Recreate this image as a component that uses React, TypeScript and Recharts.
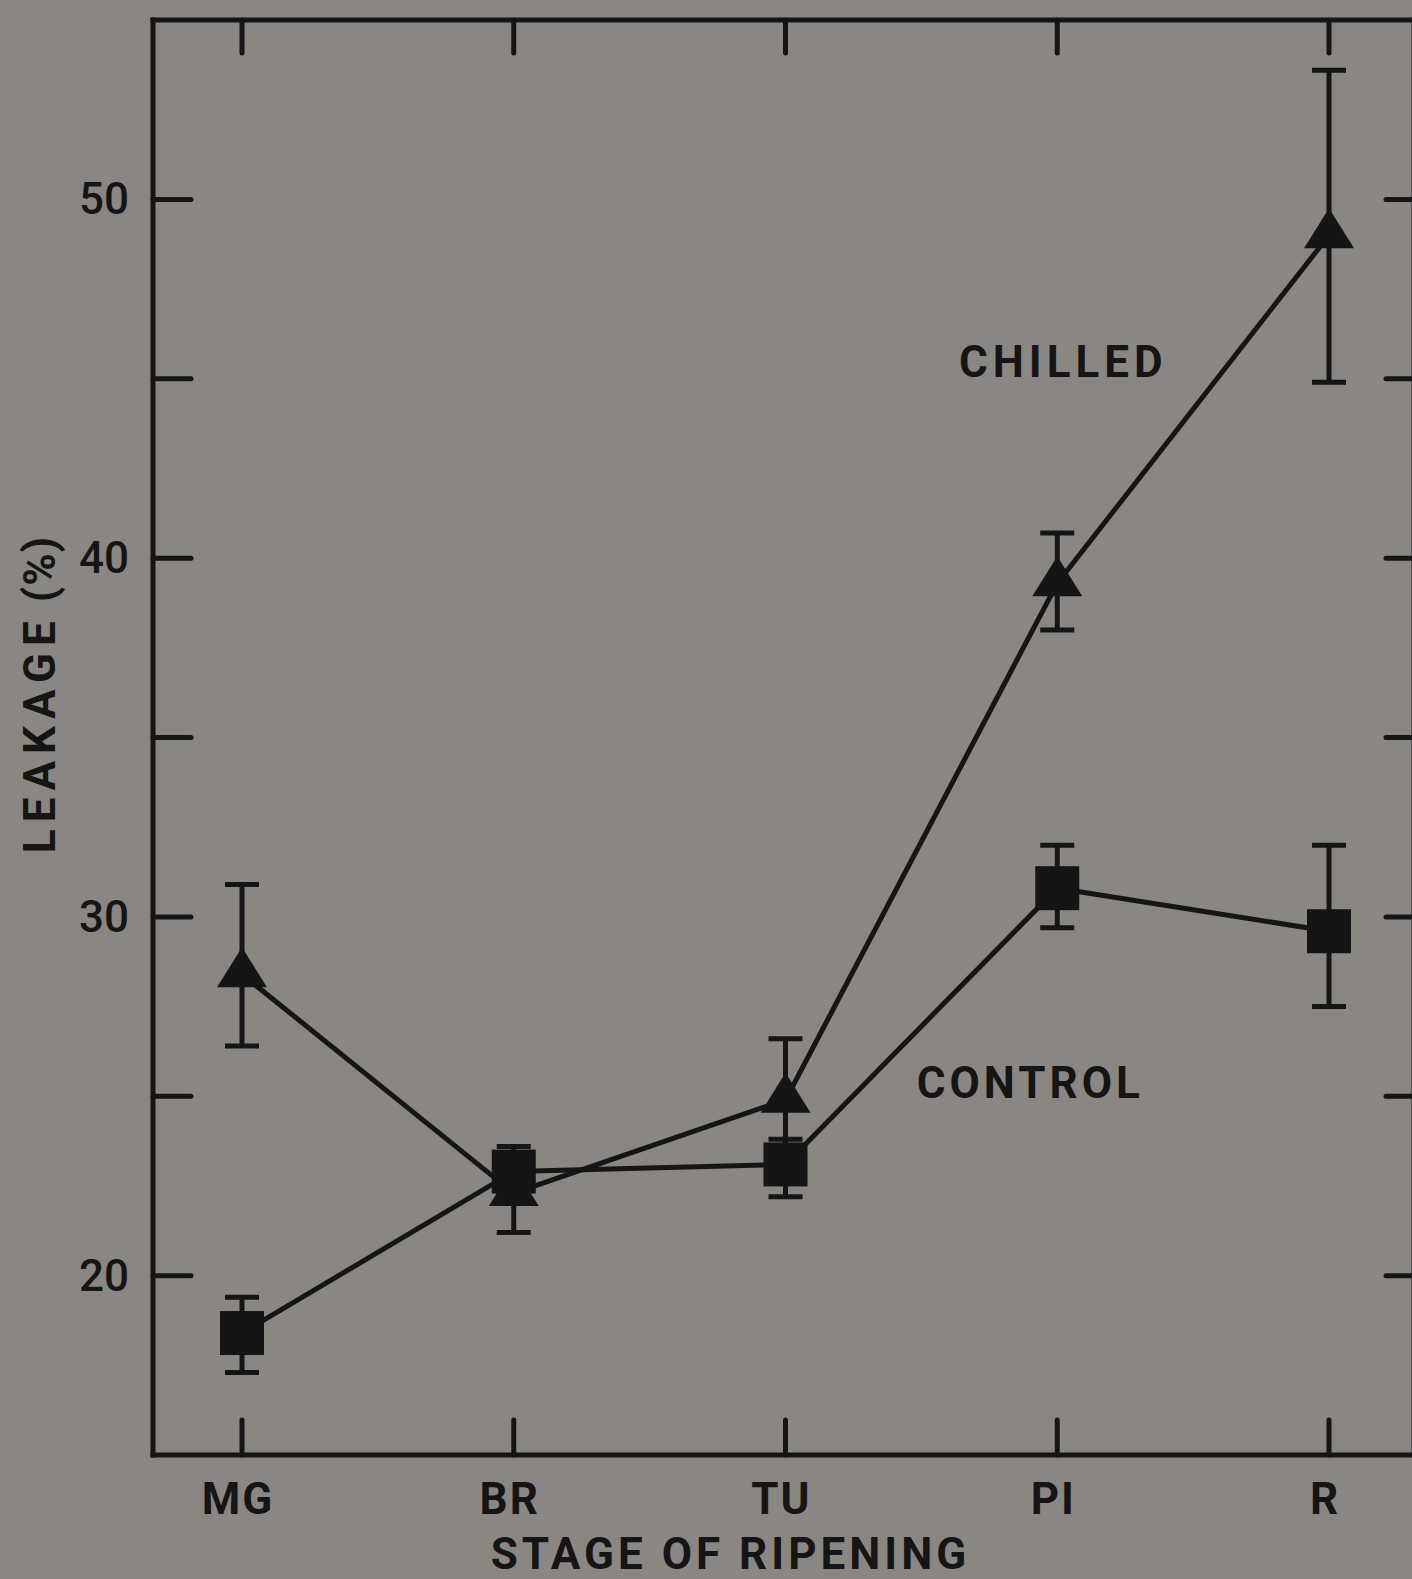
import { LineChart, Line, XAxis, YAxis, ErrorBar, Label, ReferenceDot } from 'recharts';

// stages of ripening on the x axis
const stages = ['MG', 'BR', 'TU', 'PI', 'R'];

// leakage (%), with the ends of the error bars
const chilledMean = [28.4, 22.3, 24.9, 39.3, 49.0];
const chilledHigh = [30.9, 23.4, 26.6, 40.7, 53.6];
const chilledLow = [26.4, 21.2, 23.6, 38.0, 44.9];

const controlMean = [18.4, 22.9, 23.1, 30.8, 29.6];
const controlHigh = [19.4, 23.6, 23.8, 32.0, 32.0];
const controlLow = [17.3, 22.2, 22.2, 29.7, 27.5];

const yTicks = [20, 25, 30, 35, 40, 45, 50];
const yLabelled = [20, 30, 40, 50];

// where the two curve names sit, in data units
const seriesNotes = [
  { text: 'CHILLED', stage: 'PI', value: 45.5, dx: 6, spacing: 5 },
  { text: 'CONTROL', stage: 'PI', value: 25.4, dx: -27, spacing: 4 },
];

const data = stages.map((stage, i) => ({
  stage,
  chilled: chilledMean[i],
  chilledErr: [chilledMean[i] - chilledLow[i], chilledHigh[i] - chilledMean[i]],
  control: controlMean[i],
  controlErr: [controlMean[i] - controlLow[i], controlHigh[i] - controlMean[i]],
}));

const INK = '#151515';
const BG = '#8a8782';
const FONT = 'Roboto, "DejaVu Sans", sans-serif';
const FS = 44;

const TriangleDot = (p: any) => {
  if (p.cx == null || p.cy == null) return <g key={`t-${p.index}`} />;
  const { cx, cy } = p;
  return (
    <polygon
      key={`t-${p.index}`}
      points={`${cx},${cy - 27} ${cx - 25},${cy + 13} ${cx + 25},${cy + 13}`}
      fill={INK}
    />
  );
};

const SquareDot = (p: any) => {
  if (p.cx == null || p.cy == null) return <g key={`s-${p.index}`} />;
  return <rect key={`s-${p.index}`} x={p.cx - 22} y={p.cy - 22} width={44} height={44} fill={INK} />;
};

const LeftTick = ({ x, y, payload }: any) => (
  <g>
    <line x1={x} y1={y} x2={x + 38} y2={y} stroke={INK} strokeWidth={5} strokeLinecap="round" />
    {yLabelled.includes(payload.value) && (
      <text x={x - 24} y={y + 15} textAnchor="end" fontFamily={FONT} fontWeight={500} fontSize={FS} fill={INK}>
        {payload.value}
      </text>
    )}
  </g>
);

const RightTick = ({ x, y }: any) => (
  <line x1={x - 28} y1={y} x2={x} y2={y} stroke={INK} strokeWidth={5} strokeLinecap="round" />
);

const TopTick = ({ x, y }: any) => (
  <line x1={x} y1={y} x2={x} y2={y + 33} stroke={INK} strokeWidth={5} strokeLinecap="round" />
);

const BottomTick = ({ x, y, payload }: any) => (
  <g>
    <line x1={x} y1={y} x2={x} y2={y - 35} stroke={INK} strokeWidth={5} strokeLinecap="round" />
    <text x={x - 4} y={y + 59} textAnchor="middle" fontFamily={FONT} fontWeight={700} fontSize={FS} letterSpacing={2} fill={INK}>
      {payload.value}
    </text>
  </g>
);

const axisLine = { stroke: INK, strokeWidth: 5, strokeLinecap: 'square' as const };

export default function App() {
  return (
    <div style={{ position: 'absolute', left: 0, top: 0, width: 1412, height: 1579, background: BG, overflow: 'hidden' }}>
      <LineChart width={1412} height={1579} data={data} margin={{ top: 19, right: -3, bottom: 0, left: 0 }}>
        <XAxis
          dataKey="stage"
          type="category"
          scale="point"
          padding={{ left: 89, right: 85 }}
          height={124}
          axisLine={axisLine}
          tickLine={false}
          tickSize={0}
          tickMargin={0}
          tick={<BottomTick />}
          interval={0}
        >
          <Label
            content={({ viewBox }: any) => (
              <text
                x={viewBox.x + viewBox.width / 2 - 53}
                y={viewBox.y + 114}
                textAnchor="middle"
                fontFamily={FONT}
                fontWeight={700}
                fontSize={FS}
                letterSpacing={4}
                fill={INK}
              >
                STAGE OF RIPENING
              </text>
            )}
          />
        </XAxis>
        <XAxis
          xAxisId="top"
          orientation="top"
          dataKey="stage"
          type="category"
          scale="point"
          padding={{ left: 89, right: 85 }}
          height={1}
          axisLine={axisLine}
          tickLine={false}
          tickSize={0}
          tickMargin={0}
          tick={<TopTick />}
          interval={0}
        />
        <YAxis
          domain={[15, 55]}
          ticks={yTicks}
          width={153}
          axisLine={axisLine}
          tickLine={false}
          tickSize={0}
          tickMargin={0}
          tick={<LeftTick />}
          interval={0}
        >
          <Label
            content={({ viewBox }: any) => {
              const cx = 40;
              const cy = viewBox.y + viewBox.height / 2 - 43;
              return (
                <text
                  x={cx}
                  y={cy}
                  dy={FS * 0.35}
                  transform={`rotate(-90 ${cx} ${cy})`}
                  textAnchor="middle"
                  fontFamily={FONT}
                  fontWeight={700}
                  fontSize={FS}
                  fill={INK}
                >
                  <tspan letterSpacing={7}>LEAKAGE</tspan>
                  <tspan letterSpacing={1}>{'  (%)'}</tspan>
                </text>
              );
            }}
          />
        </YAxis>
        <YAxis
          yAxisId="right"
          orientation="right"
          domain={[15, 55]}
          ticks={yTicks}
          width={1}
          axisLine={axisLine}
          tickLine={false}
          tickSize={0}
          tickMargin={0}
          tick={<RightTick />}
          interval={0}
        />
        {/* invisible series so the top and right frame axes get drawn */}
        <Line
          xAxisId="top"
          yAxisId="right"
          dataKey="chilled"
          stroke="none"
          dot={false}
          activeDot={false}
          legendType="none"
          isAnimationActive={false}
        />
        <Line
          dataKey="chilled"
          type="linear"
          stroke={INK}
          strokeWidth={5}
          dot={(p: any) => <TriangleDot {...p} key={`t-${p.index}`} />}
          activeDot={false}
          isAnimationActive={false}
        >
          <ErrorBar dataKey="chilledErr" direction="y" width={17} stroke={INK} strokeWidth={5} isAnimationActive={false} />
        </Line>
        <Line
          dataKey="control"
          type="linear"
          stroke={INK}
          strokeWidth={5}
          dot={(p: any) => <SquareDot {...p} key={`s-${p.index}`} />}
          activeDot={false}
          isAnimationActive={false}
        >
          <ErrorBar dataKey="controlErr" direction="y" width={17} stroke={INK} strokeWidth={5} isAnimationActive={false} />
        </Line>
        {seriesNotes.map((n) => (
          <ReferenceDot
            key={n.text}
            x={n.stage}
            y={n.value}
            r={1}
            shape={(p: any) => (
              <text
                x={p.cx + n.dx}
                y={p.cy + 16}
                textAnchor="middle"
                fontFamily={FONT}
                fontWeight={700}
                fontSize={FS}
                letterSpacing={n.spacing}
                fill={INK}
              >
                {n.text}
              </text>
            )}
          />
        ))}
      </LineChart>
    </div>
  );
}
